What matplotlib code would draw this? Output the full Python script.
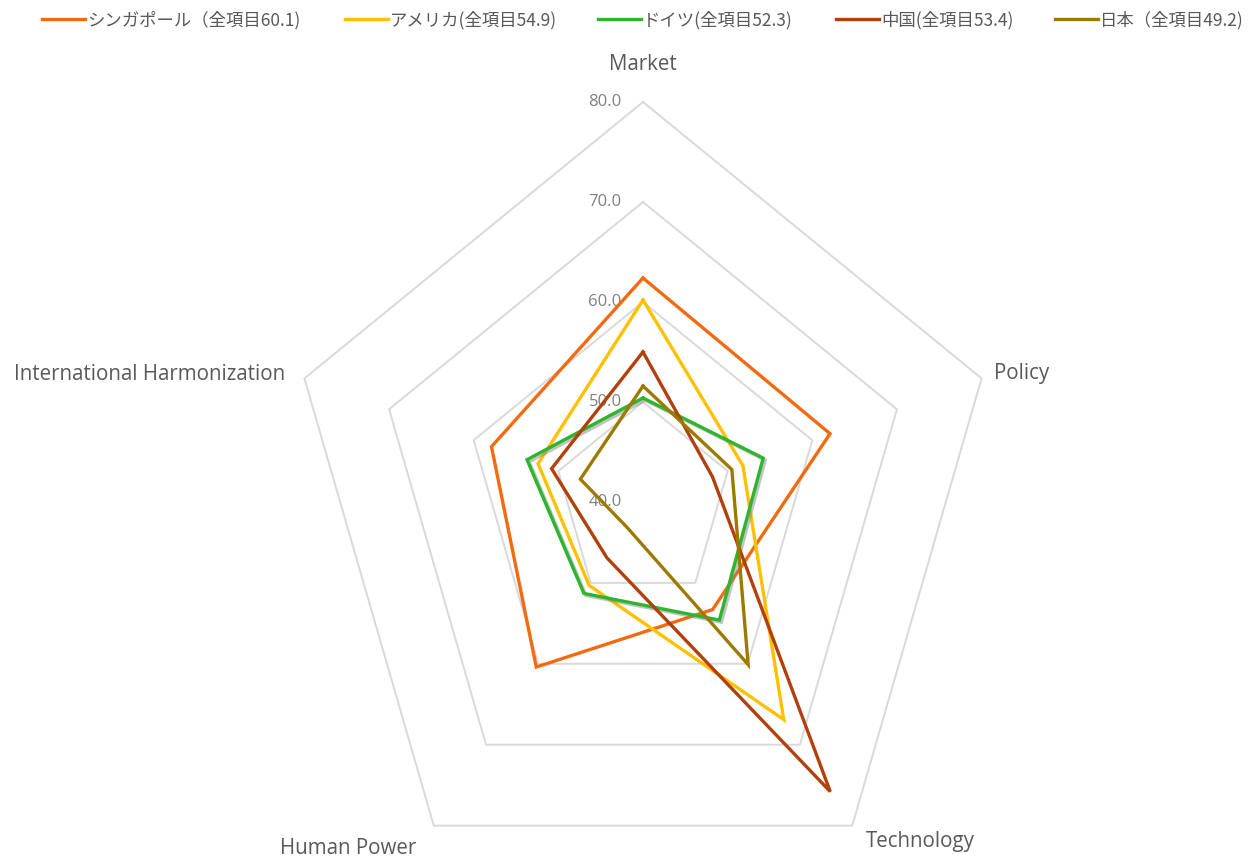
import numpy as np
import matplotlib
matplotlib.use("Agg")
import matplotlib.pyplot as plt
import matplotlib.patheffects as pe

# Axis categories, clockwise from the top
categories = ["Market", "Policy", "Technology", "Human Power", "International Harmonization"]

# Series values
singapore = [62.4, 62.1, 53.3, 60.4, 57.9]
america = [60.2, 51.8, 66.9, 50.3, 52.4]
germany = [50.4, 54.2, 54.6, 51.3, 53.7]
china = [55.0, 48.2, 75.8, 46.9, 50.8]
japan = [51.6, 50.5, 60.1, 43.1, 47.4]

series_names = ["シンガポール（全項目60.1)", "アメリカ(全項目54.9)", "ドイツ(全項目52.3)",
                "中国(全項目53.4)", "日本（全項目49.2)"]
series_colors = ["#F36A10", "#FFC000", "#2DB52D", "#B2400C", "#9C7A00"]

r_min = 40
grid_levels = [50, 60, 70, 80]
tick_labels = ["40.0", "50.0", "60.0", "70.0", "80.0"]

plt.rcParams['font.family'] = ['Noto Sans CJK JP', 'DejaVu Sans']

fig = plt.figure(figsize=(12.5, 8.58), dpi=100)
ax = fig.add_axes([0, 0, 1, 1])
# horizontal units are a bit narrower than vertical ones in the original picture
ax.set_xlim(-643 / 8.9, (1250 - 643) / 8.9)
ax.set_ylim(-35.6, 50.2)
ax.axis("off")

angles = np.arange(len(categories)) * 2 * np.pi / len(categories)


def to_xy(values):
    r = np.asarray(values, dtype=float) - r_min
    x = r * np.sin(angles)
    y = r * np.cos(angles)
    return np.append(x, x[0]), np.append(y, y[0])


# grid pentagons
for lvl in grid_levels:
    gx, gy = to_xy([lvl] * len(categories))
    ax.plot(gx, gy, color="#D9D9D9", lw=1.4, zorder=1)

# tick labels along the top axis
for lvl, lab in zip([r_min] + grid_levels, tick_labels):
    ax.text(-2.4, lvl - r_min, lab, ha="right", va="center", fontsize=12,
            color="#808080", family="Open Sans")

# series
all_series = [singapore, america, germany, china, japan]
lines = []
for vals, name, col in zip(all_series, series_names, series_colors):
    sx, sy = to_xy(vals)
    effects = None
    if col == "#2DB52D":
        effects = [pe.SimpleLineShadow(offset=(1.5, -1.5), shadow_color="#888888", alpha=0.5),
                   pe.Normal()]
    ln, = ax.plot(sx, sy, color=col, lw=2.4, label=name, zorder=3, solid_joinstyle="miter",
                  path_effects=effects)
    lines.append(ln)

# category labels
label_color = "#595959"
lab_kw = dict(fontsize=14.8, color=label_color, family="Open Sans", va="center")
ax.text(0, 43.7, categories[0], ha="center", **lab_kw)
ax.text(39.4, 12.9, categories[1], ha="left", **lab_kw)
ax.text(25.0, -34.0, categories[2], ha="left", **lab_kw)
ax.text(-33.1, -34.6, categories[3], ha="center", **lab_kw)
ax.text(-40.2, 12.7, categories[4], ha="right", **lab_kw)

# legend entries, one per series, spread across the top
legend_x = [42, 345, 598, 836, 1055]
for ln, name, xp in zip(lines, series_names, legend_x):
    leg = fig.legend([ln], [name], loc="center left", bbox_to_anchor=(xp / 1250, 1 - 20 / 858),
                     frameon=False, fontsize=12.5, handlelength=2.5, handletextpad=0.1,
                     borderpad=0, borderaxespad=0)
    for t in leg.get_texts():
        t.set_color("#595959")
    for h in leg.legend_handles:
        h.set_path_effects([])

fig.savefig("out.png", dpi=100)
